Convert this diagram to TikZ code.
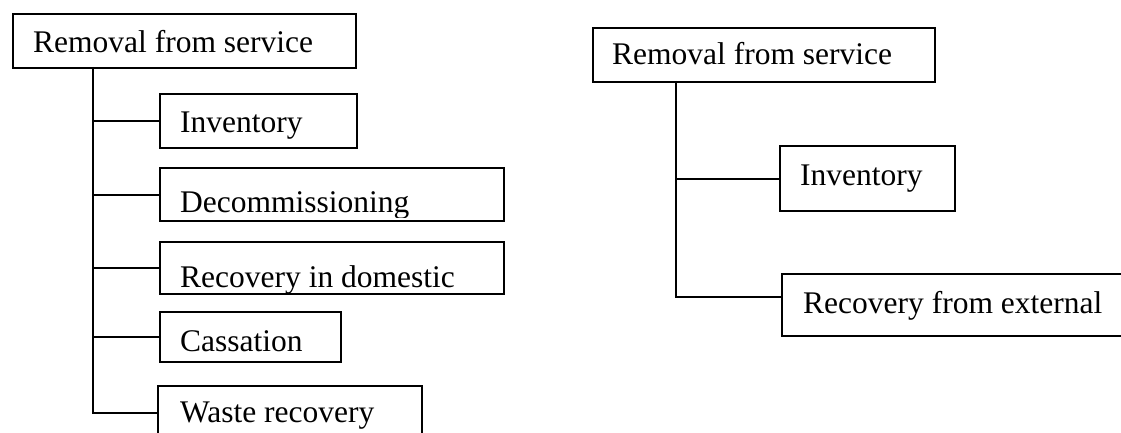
\documentclass[tikz,border=0pt]{standalone}
\usepackage{fontspec}
\setmainfont{Liberation Serif}
\usetikzlibrary{positioning}
\tikzset{
  box/.style={draw, line width=2pt, rectangle, anchor=north west, inner sep=0pt},
  lbl/.style={anchor=base west, inner sep=0pt, font=\fontsize{31.5}{38}\selectfont},
  link/.style={line width=2pt},
}
\begin{document}
\begin{tikzpicture}[x=1pt,y=-1pt]
  \useasboundingbox (0,0) rectangle (1121,433);
  \clip (0,0) rectangle (1121,433);

  % Left tree: boxes
  \node[box, minimum width=343pt, minimum height=54pt] (remL) at (12,13) {};
  \node[box, minimum width=197pt, minimum height=54pt] (invL) at (159,93) {};
  \node[box, minimum width=344pt, minimum height=53pt] (decL) at (159,167) {};
  \node[box, minimum width=344pt, minimum height=52pt] (domL) at (159,241) {};
  \node[box, minimum width=181pt, minimum height=50pt] (casL) at (159,311) {};
  \node[box, minimum width=264pt, minimum height=54pt] (wasL) at (157,385) {};

  % Left tree: labels (text area cut off above the lower border)
  \foreach \b/\cut/\x/\y/\t in {remL/2/33/53/Removal from service,
      invL/10/180/132/Inventory, decL/5/180/212/Decommissioning,
      domL/2/180/287/Recovery in domestic, casL/2/180/351/Cassation,
      wasL/11/180/422/Waste recovery}
  {
    \begin{scope}
      \clip (\b.north west) rectangle ([yshift=\cut pt]\b.south east);
      \node[lbl] (\b txt) at (\x,\y) {\t};
    \end{scope}
  }

  % Left tree: connectors
  \coordinate (trunkL) at (93,67);
  \draw[link] (trunkL) |- (wasL.west);
  \foreach \b in {invL,decL,domL,casL}
    \draw[link] (\b.west) -- (\b.west -| trunkL);

  % Right tree: boxes
  \node[box, minimum width=342pt, minimum height=54pt] (remR) at (592,27) {};
  \node[box, minimum width=175pt, minimum height=65pt] (invR) at (779,145) {};
  \node[box, minimum width=360pt, minimum height=62pt] (extR) at (781,273) {};

  % Right tree: labels
  \node[lbl] (remRtxt) at (612,65) {Removal from service};
  \node[lbl] (invRtxt) at (800,185) {Inventory};
  \node[lbl] (extRtxt) at (803,313) {Recovery from external};

  % Right tree: connectors
  \coordinate (trunkR) at (676,81);
  \coordinate (trunkRend) at (676,297);
  \draw[link] (trunkR) -- (trunkRend) -- (trunkRend -| extR.west);
  \draw[link] (invR.west) -- (invR.west -| trunkR);
\end{tikzpicture}
\end{document}
